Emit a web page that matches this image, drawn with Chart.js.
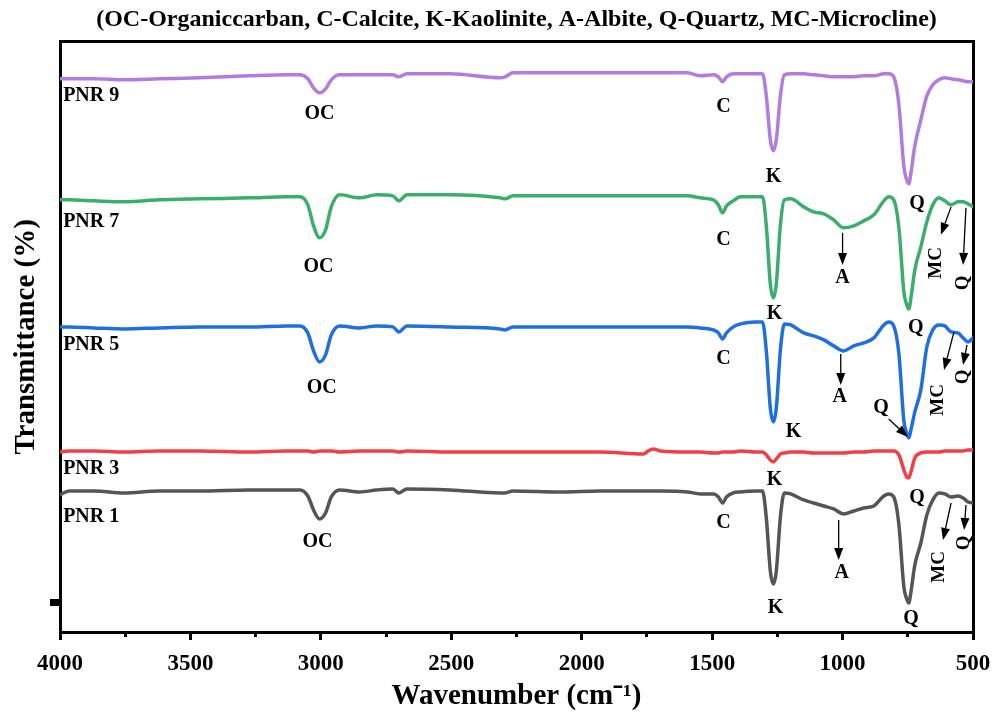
<!DOCTYPE html>
<html lang="en">
<head>
<meta charset="UTF-8" />
<title>FTIR spectra PNR</title>
<script src="https://cdn.jsdelivr.net/npm/chart.js@4"></script>
<style>
  html, body { margin: 0; padding: 0; background: #fff; }
  #wrap { width: 993px; height: 716px; }
</style>
</head>
<body>
<div id="wrap"><canvas id="ftir" width="993" height="716"></canvas></div>
<script>
// wavenumber (cm-1), shared by all spectra
const wavenumbers = [4000, 3965, 3870, 3755, 3620, 3465, 3275, 3130, 3080, 3050,
  3028, 3005, 2982, 2960, 2928, 2851, 2786, 2724, 2701, 2670,
  2505, 2313, 2294, 2263, 2083, 1929, 1764, 1745, 1726, 1699,
  1595, 1545, 1495, 1476, 1460, 1445, 1419, 1391, 1334, 1307,
  1292, 1277, 1265, 1254, 1238, 1223, 1199, 1149, 1111, 1072,
  1034, 996, 957, 919, 880, 842, 823, 804, 784, 765,
  754, 746, 738, 723, 700, 677, 654, 631, 608, 584,
  558, 538, 519, 500];

// transmittance (offset, arbitrary units)
const pnr9 = [553, 553, 553, 552, 553, 554, 556, 557, 557, 553,
  544, 539, 543, 552, 557, 557, 557, 557, 555, 558,
  558, 554, 555, 559, 559, 559, 559, 559, 559, 559,
  559, 556, 557, 555, 550, 555, 558, 558, 558, 558,
  535, 492, 481, 492, 537, 557, 558, 558, 557, 556,
  555, 555, 555, 556, 556, 558, 558, 555, 527, 465,
  452, 448, 459, 486, 512, 536, 547, 552, 554, 553,
  552, 551, 550, 550];
const pnr7 = [432, 432, 431, 430, 432, 433, 434, 435, 435, 427,
  406, 394, 402, 425, 437, 434, 437, 436, 431, 437,
  437, 434, 433, 436, 436, 436, 436, 436, 436, 436,
  436, 434, 432, 427, 419, 426, 431, 435, 435, 435,
  405, 348, 334, 348, 408, 432, 433, 425, 420, 418,
  412, 404, 406, 411, 417, 431, 435, 432, 404, 340,
  327, 323, 334, 362, 385, 410, 427, 434, 431, 427,
  430, 430, 428, 425];
const pnr5 = [305, 305, 304, 303, 304, 305, 305, 306, 306, 299,
  281, 270, 277, 297, 306, 304, 306, 305, 300, 306,
  305, 303, 302, 305, 305, 305, 305, 305, 305, 305,
  305, 304, 302, 299, 293, 299, 305, 308, 310, 310,
  280, 224, 210, 224, 283, 308, 307, 299, 296, 292,
  286, 281, 286, 289, 294, 307, 310, 306, 278, 211,
  199, 194, 202, 220, 242, 285, 302, 307, 306, 300,
  299, 294, 290, 294];
const pnr3 = [180, 181, 181, 180, 181, 181, 180, 181, 181, 181,
  180, 181, 181, 181, 180, 181, 181, 181, 180, 181,
  180, 180, 180, 180, 180, 180, 178, 181, 183, 181,
  180, 180, 179, 179, 180, 180, 180, 181, 180, 180,
  177, 172, 170, 173, 178, 179, 180, 180, 179, 179,
  179, 179, 180, 180, 181, 181, 181, 181, 177, 162,
  155, 154, 160, 174, 179, 180, 180, 180, 181, 181,
  181, 181, 182, 182];
const pnr1 = [137, 141, 141, 139, 141, 141, 142, 142, 142, 136,
  122, 113, 119, 135, 142, 140, 142, 143, 139, 143,
  142, 139, 139, 141, 140, 141, 141, 141, 141, 141,
  140, 138, 138, 135, 129, 135, 139, 140, 141, 141,
  113, 61, 48, 61, 116, 139, 138, 132, 129, 126,
  123, 118, 121, 124, 126, 136, 138, 135, 107, 45,
  33, 29, 40, 67, 89, 117, 132, 139, 138, 135,
  136, 134, 130, 129];

const sampleNames = ['PNR 1', 'PNR 3', 'PNR 5', 'PNR 7', 'PNR 9'];
const sampleSpectra = [pnr1, pnr3, pnr5, pnr7, pnr9];
const sampleColors = ['#555555', '#EE4046', '#1F6FDE', '#3CAE6B', '#B27CDE'];
const nameLevels = [115, 163, 287, 410, 536];

// peak annotations: [text, wavenumber, level]
const peakLabels = [
  ['OC', 3005, 518], ['C', 1457, 525], ['K', 1265, 455], ['Q', 715, 428],
  ['OC', 3009, 365], ['C', 1457, 392], ['K', 1261, 318], ['A', 1000, 354], ['Q', 719, 304],
  ['OC', 2997, 244], ['C', 1457, 273], ['K', 1188, 200], ['A', 1011, 235], ['Q', 853, 224],
  ['K', 1261, 152], ['Q', 715, 134],
  ['OC', 3013, 90], ['C', 1457, 109], ['K', 1257, 24], ['A', 1003, 59], ['Q', 738, 13]
];
const sideLabels = [
  ['MC', 642, 369], ['Q', 538, 349],
  ['MC', 634, 232], ['Q', 538, 255],
  ['MC', 631, 65], ['Q', 534, 89]
];
// arrows: [from w, from level, to w, to level]
const arrows = [
  [1000, 399, 1000, 367], [584, 425, 623, 397], [527, 424, 538, 367],
  [1007, 278, 1007, 247], [823, 213, 750, 195], [573, 300, 611, 262], [523, 287, 538, 267],
  [1015, 112, 1015, 72], [584, 129, 615, 92], [527, 127, 534, 102]
];

const chartTitle = '(OC-Organiccarban, C-Calcite, K-Kaolinite, A-Albite, Q-Quartz, MC-Microcline)';
const serif = '"Liberation Serif", "Times New Roman", serif';

const annotate = {
  id: 'annotate',
  afterDatasetsDraw(chart) {
    const { ctx, scales: { x, y } } = chart;
    ctx.save();
    ctx.fillStyle = '#000';
    ctx.strokeStyle = '#000';
    ctx.textBaseline = 'middle';

    ctx.font = 'bold 20px ' + serif;
    ctx.textAlign = 'left';
    sampleNames.forEach((n, i) => {
      ctx.fillText(n, x.getPixelForValue(3988), y.getPixelForValue(nameLevels[i]));
    });

    ctx.textAlign = 'center';
    peakLabels.forEach(([t, w, v]) => {
      ctx.fillText(t, x.getPixelForValue(w), y.getPixelForValue(v));
    });

    ctx.font = 'bold 19px ' + serif;
    sideLabels.forEach(([t, w, v]) => {
      ctx.save();
      ctx.translate(x.getPixelForValue(w), y.getPixelForValue(v));
      ctx.rotate(-Math.PI / 2);
      ctx.fillText(t, 0, 0);
      ctx.restore();
    });

    ctx.lineWidth = 1.3;
    arrows.forEach(([w1, v1, w2, v2]) => {
      const x1 = x.getPixelForValue(w1), y1 = y.getPixelForValue(v1);
      const x2 = x.getPixelForValue(w2), y2 = y.getPixelForValue(v2);
      const a = Math.atan2(y2 - y1, x2 - x1);
      const hl = 12, hw = 4.5;
      const bx = x2 - hl * Math.cos(a), by = y2 - hl * Math.sin(a);
      ctx.beginPath();
      ctx.moveTo(x1, y1);
      ctx.lineTo(bx, by);
      ctx.stroke();
      ctx.beginPath();
      ctx.moveTo(x2, y2);
      ctx.lineTo(bx + hw * Math.sin(a), by - hw * Math.cos(a));
      ctx.lineTo(bx - hw * Math.sin(a), by + hw * Math.cos(a));
      ctx.closePath();
      ctx.fill();
    });
    ctx.restore();
  }
};

const datasets = sampleNames.map((name, i) => ({
  label: name,
  data: wavenumbers.map((w, j) => ({ x: w, y: sampleSpectra[i][j] })),
  borderColor: sampleColors[i],
  borderWidth: 3.5,
  pointRadius: 0,
  cubicInterpolationMode: 'monotone',
  borderJoinStyle: 'round',
  borderCapStyle: 'round',
  fill: false
}));

const tickFont = { family: serif, size: 23, weight: 'bold' };
const noSidePadding = (s) => { s.paddingLeft = 0; s.paddingRight = 0; };

new Chart(document.getElementById('ftir').getContext('2d'), {
  type: 'line',
  data: { datasets },
  options: {
    responsive: false,
    animation: false,
    devicePixelRatio: 1,
    layout: { padding: { left: 0, right: 20, top: 0, bottom: 0 } },
    plugins: {
      legend: { display: false },
      tooltip: { enabled: false },
      title: {
        display: true,
        fullSize: false,
        text: chartTitle,
        color: '#000',
        font: { family: serif, size: 24, weight: 'bold', lineHeight: 1.2 },
        padding: { top: 5, bottom: 8 }
      }
    },
    scales: {
      x: {
        type: 'linear',
        position: 'bottom',
        weight: 2,
        reverse: true,
        min: 500,
        max: 4000,
        ticks: {
          stepSize: 500,
          color: '#000',
          font: tickFont,
          padding: 10,
          maxRotation: 0,
          callback: (v) => String(v)
        },
        grid: { drawOnChartArea: false, color: '#000', tickLength: 8, tickWidth: 3 },
        border: { display: true, color: '#000', width: 3 },
        title: {
          display: true,
          text: 'Wavenumber (cm⁻¹)',
          color: '#000',
          font: { family: serif, size: 29, weight: 'bold', lineHeight: 1.2 },
          padding: { top: 0, bottom: 2 }
        },
        afterFit: (s) => { s.height = 84; noSidePadding(s); }
      },
      xMinor: {
        type: 'linear',
        position: 'bottom',
        weight: 1,
        reverse: true,
        min: 500,
        max: 4000,
        ticks: { stepSize: 250, display: false },
        grid: { drawOnChartArea: false, color: '#000', tickLength: 5, tickWidth: 3 },
        border: { display: false },
        afterFit: (s) => { s.height = 0; noSidePadding(s); }
      },
      xTop: {
        type: 'linear',
        position: 'top',
        reverse: true,
        min: 500,
        max: 4000,
        ticks: { display: false },
        grid: { display: false },
        border: { display: true, color: '#000', width: 3 },
        afterFit: (s) => { s.height = 0; noSidePadding(s); }
      },
      y: {
        type: 'linear',
        position: 'left',
        min: 0,
        max: 590,
        afterBuildTicks: (s) => { s.ticks = [{ value: 29 }]; },
        ticks: { display: false },
        grid: { drawOnChartArea: false, color: '#000', tickLength: 10, tickWidth: 7 },
        border: { display: true, color: '#000', width: 3 },
        title: {
          display: true,
          text: 'Transmittance (%)',
          color: '#000',
          font: { family: serif, size: 29, weight: 'bold', lineHeight: 1.2 },
          padding: { top: 9, bottom: 0 }
        },
        afterFit: (s) => { s.width = 60; }
      },
      yRight: {
        type: 'linear',
        position: 'right',
        min: 0,
        max: 590,
        ticks: { display: false },
        grid: { display: false },
        border: { display: true, color: '#000', width: 3 },
        afterFit: (s) => { s.width = 0; }
      }
    }
  },
  plugins: [annotate]
});
</script>
</body>
</html>
